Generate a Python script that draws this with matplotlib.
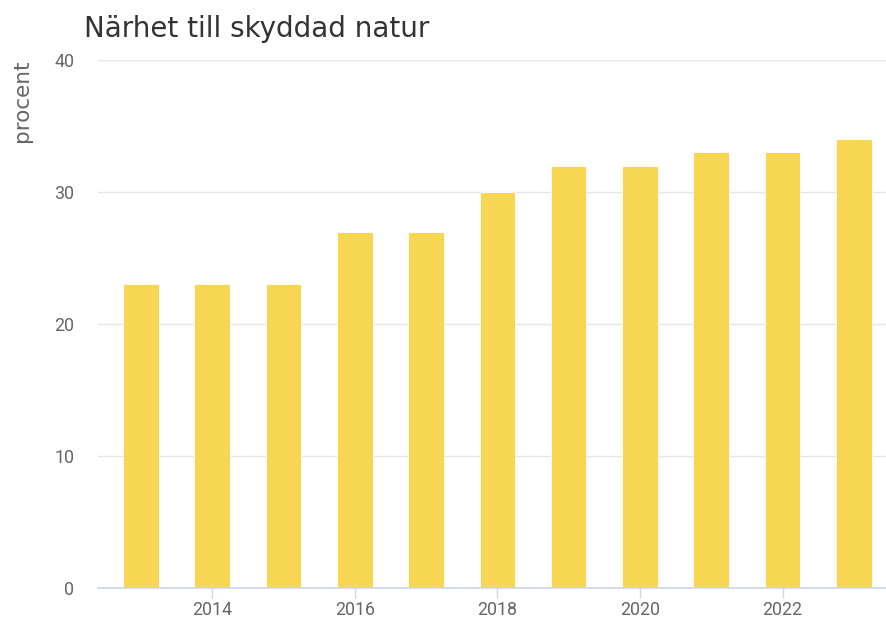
import matplotlib
matplotlib.use("Agg")
import matplotlib.pyplot as plt

years = [2013, 2014, 2015, 2016, 2017, 2018, 2019, 2020, 2021, 2022, 2023]
values = [23, 23, 23, 27, 27, 30, 32, 32, 33, 33, 34]
xticks = [2014, 2016, 2018, 2020, 2022]
yticks = [0, 10, 20, 30, 40]
title = "Närhet till skyddad natur"
ylabel = "procent"

tick_font = "Roboto"

W, H = 886, 619
fig = plt.figure(figsize=(W / 100, H / 100), dpi=100)
ax = fig.add_axes([98 / W, 1 - 588 / H, (886 - 98) / W, (588 - 60) / H])

ax.bar(years, values, width=0.5, color="#f7d654", edgecolor="white", linewidth=0.6, zorder=3)

ax.set_xlim(2012.4, 2023.45)
ax.set_ylim(0, 40)
ax.set_yticks(yticks)
ax.set_xticks(xticks)
ax.grid(axis="y", color="#e6e6e6", linewidth=1, zorder=0)
for s in ["top", "right", "left"]:
    ax.spines[s].set_visible(False)
ax.spines["bottom"].set_color("#ccd6eb")
ax.spines["bottom"].set_linewidth(1.2)
ax.spines["bottom"].set_zorder(4)
ax.tick_params(axis="x", length=7.5, width=1, color="#ccd6eb", pad=2,
               labelsize=12.8, labelcolor="#666666")
ax.tick_params(axis="y", length=0, pad=17, labelsize=12.8, labelcolor="#666666")
for lab in ax.get_xticklabels() + ax.get_yticklabels():
    lab.set_fontfamily(tick_font)

fig.text(84 / W, 1 - 29 / H, title, fontsize=20, color="#333333",
         family="DejaVu Sans", va="center", ha="left")
fig.text(22 / W, 1 - 101 / H, ylabel, fontsize=15.5, color="#666666",
         family="DejaVu Sans", rotation=90, va="center", ha="center")

fig.savefig("out.png", dpi=100, facecolor="white")
